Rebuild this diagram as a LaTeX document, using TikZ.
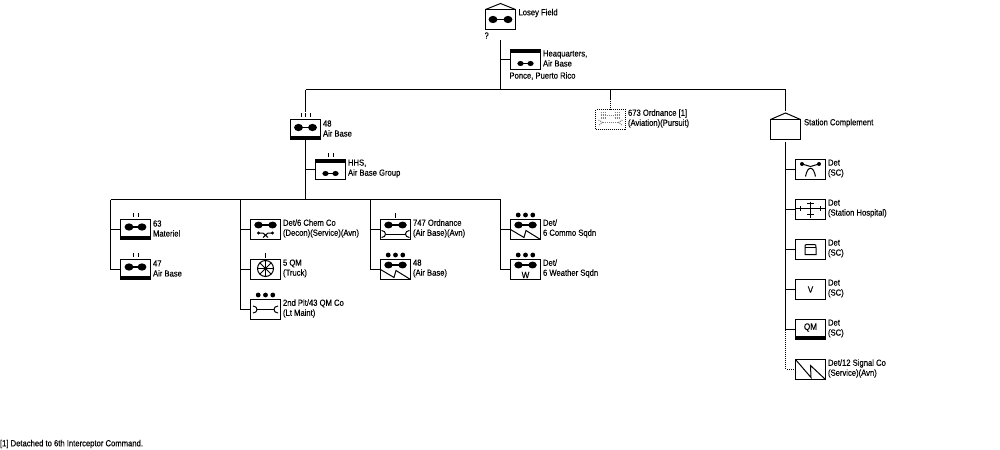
\documentclass[tikz,border=0pt]{standalone}
\usepackage{fontspec}
\setmainfont[FakeStretch=0.87,FakeBold=0.25]{Liberation Sans}
\tikzset{
  x=0.75pt,y=-0.75pt,
  every path/.style={line width=0.75pt},
  unitbox/.style={draw,fill=white,rectangle,minimum width=22.5pt,minimum height=15pt,inner sep=0pt,outer sep=0pt},
  dotbox/.style={unitbox,dash pattern=on 0.75pt off 0.75pt},
  lbl/.style={anchor=west,align=left,inner sep=0pt,outer sep=0pt,font=\fontsize{6.6}{7.5}\selectfont},
  link/.style={line width=0.75pt},
  dotlink/.style={line width=0.75pt,dash pattern=on 0.75pt off 0.75pt},
  glyph/.style={inner sep=0pt,outer sep=0pt,font=\fontsize{7}{9}\selectfont},
}
\newcommand\dumbb[3]{\fill (-#1,#2) ellipse [x radius=#3*1.12,y radius=#3*0.9]; \fill (#1,#2) ellipse [x radius=#3*1.12,y radius=#3*0.9]; \draw[line width=1pt] (-#1,#2) -- (#1,#2);}
\newcommand\barbottom{\fill (-15,6.5) rectangle (15,10.3);}
\newcommand\bartop{\fill (-15,-10.3) rectangle (15,-6.5);}
\newcommand\tickone{\draw (0,-16.5) -- (0,-12);}
\newcommand\ticktwo{\draw (-2.5,-16.5) -- (-2.5,-12.5) (2.5,-16.5) -- (2.5,-12.5);}
\newcommand\tickthree{\draw (-4.5,-16.5) -- (-4.5,-12.5) (0,-16.5) -- (0,-12.5) (4.5,-16.5) -- (4.5,-12.5);}
\newcommand\threedots{\fill (-7.3,-14.5) circle [radius=2.4] (0,-14.5) circle [radius=2.4] (7.3,-14.5) circle [radius=2.4];}
% wrench: #1 left end, #2 right end, #3 y, #4 jaw depth
\newcommand\wrench[4]{%
  \draw (#1+#4,#3) -- (#2-#4,#3);
  \draw (#1,#3-3.5) .. controls (#1+#4*1.33,#3-3.5) and (#1+#4*1.33,#3+3.5) .. (#1,#3+3.5);
  \draw (#2,#3-3.5) .. controls (#2-#4*1.33,#3-3.5) and (#2-#4*1.33,#3+3.5) .. (#2,#3+3.5);}
\newcommand\zigzag{\draw (-15,0) -- (-1.5,8) -- (0.5,1) -- (15,10);}
\newcommand\unitnode[6][unitbox]{%
  \node[#1] (#2) at (#3,#4) {};
  \begin{scope}[shift={(#3,#4)}] #6 \end{scope}
  \node[lbl] (#2-l) at (#3+17.5,#4-1) {#5};
}
\begin{document}
\begin{tikzpicture}
\useasboundingbox (0,0) rectangle (1000,450);
\fill[white] (0,0) rectangle (1000,450);

% junctions
\coordinate (tr0) at (500.5,40);
\coordinate (j0) at (500.5,89.5);
\coordinate (jl) at (305.5,89.5);
\coordinate (jm) at (610.5,89.5);
\coordinate (jmd) at (610.5,99);
\coordinate (jr) at (785.5,89.5);
\coordinate (jrt) at (785.5,111);
\coordinate (c0) at (305.5,199.5);
\coordinate (c1) at (110.5,199.5);
\coordinate (c2) at (240.5,199.5);
\coordinate (c3) at (370.5,199.5);
\coordinate (c4) at (500.5,199.5);
\coordinate (rb) at (785.5,141.5);
\coordinate (rc) at (785.5,369.5);

% top
\unitnode{lf}{500.5}{19.5}{}{\dumbb{7.5}{0}{4}}
\coordinate (lfr) at (500.5,3.5);
\draw (lf.north west) -- (lfr) -- (lf.north east);
\node[lbl] (lf-t) at (518.5,13) {Losey Field};
\node[lbl] (lf-q) at (484.5,35.5) {?};
\unitnode{hq}{525.5}{59.5}{Heaquarters,\\Air Base}{\bartop\dumbb{5}{4}{2.8}}
\node[lbl] (hq-p) at (509.5,76) {Ponce, Puerto Rico};

% Trunks
\draw[link] (tr0) -- (j0);
\draw[link] (hq.west) -- (hq.west -| tr0);
\draw[link] (jl) -- (jr);

% 48 group
\draw[link] (jl) -- (305.5,112);
\unitnode{ab}{305.5}{129.5}{48\\Air Base}{\barbottom\dumbb{7}{-2}{4}\tickthree}
\draw[link] (ab.south) -- (c0);
\unitnode{hhs}{330.5}{169.5}{HHS,\\Air Base Group}{\bartop\dumbb{5}{4}{2.8}\ticktwo}
\draw[link] (hhs.west) -- (hhs.west -| c0);
\draw[link] (c1) -- (c4);

% 673
\draw[link] (jm) -- (jmd);
\unitnode[dotbox]{ord}{610.5}{119.5}{673 Ordnance [1]\\(Aviation)(Pursuit)}{%
  \begin{scope}[gray,dash pattern=on 0.75pt off 0.75pt]
  \foreach \yy in {-7,-5.5,-4,-2.5,-1} {\draw (-10,\yy) -- (-4,\yy) (4,\yy) -- (10,\yy);}
  \draw (-4,-4) -- (4,-4);
  \draw (-8,3) -- (8,3);
  \draw (-12,0.5) -- (-8,3) -- (-12,6) (12,0.5) -- (8,3) -- (12,6);
  \end{scope}}
\draw[dotlink] (jmd) -- (ord.north);

% Station complement
\draw[link] (jr) -- (jrt);
\unitnode{sc}{785.5}{129.5}{}{}
\coordinate (scr) at (785.5,113);
\draw (sc.north west) -- (scr) -- (sc.north east);
\node[lbl] (sc-t) at (804,123) {Station Complement};
\draw[link] (rb) -- (785.5,329.5);
\draw[dotlink] (785.5,329.5) -- (rc);

\unitnode{d1}{810.5}{169.5}{Det\\(SC)}{%
  \fill (-8.5,-5.5) circle [radius=2] (8.5,-5.5) circle [radius=2];
  \draw (-8.5,-5.5) -- (0,-3) -- (8.5,-5.5);
  \draw (-5,7) .. controls (-3,-4) and (3,-4) .. (5,7);}
\unitnode{d2}{810.5}{209.5}{Det\\(Station Hospital)}{%
  \draw (-15,-1) -- (15,-1) (0,-8) -- (0,8.5);
  \draw (-10,-3.5) -- (-10,1.5) (10,-3.5) -- (10,1.5);
  \draw (-3.5,-6) -- (3.5,-6) (-3.5,4.5) -- (3.5,4.5);}
\unitnode{d3}{810.5}{249.5}{Det\\(SC)}{%
  \draw (-5.5,5) -- (-5.5,-2) .. controls (-5.5,-5) .. (-3,-5) -- (3,-5) .. controls (5.5,-5) .. (5.5,-2) -- (5.5,5) -- cycle;
  \draw (-5.5,-2) -- (5.5,-2);}
\unitnode{d4}{810.5}{289.5}{Det\\(SC)}{\node[glyph] (d4-g) at (0,0) {V};}
\unitnode{d5}{810.5}{329.5}{Det\\(SC)}{\barbottom\node[glyph] (d5-g) at (0,-2) {QM};}
\unitnode{d6}{810.5}{369.5}{Det/12 Signal Co\\(Service)(Avn)}{%
  \draw (-15,-10) -- (0.5,8) -- (0,-4) -- (15,10);}
\foreach \n in {d1,d2,d3,d4,d5} {\draw[link] (\n.west) -- (\n.west -| rc);}
\draw[dotlink] (d6.west) -- (rc);

% column 1
\unitnode{u63}{135.5}{229.5}{63\\Materiel}{\barbottom\dumbb{6.5}{-2.5}{4}\ticktwo}
\unitnode{u47}{135.5}{269.5}{47\\Air Base}{\barbottom\dumbb{6.5}{-2.5}{4}\ticktwo}
\draw[link] (c1) |- (u47.west);
\draw[link] (u63.west) -- (u63.west -| c1);

% column 2
\unitnode{chem}{265.5}{229.5}{Det/6 Chem Co\\(Decon)(Service)(Avn)}{%
  \dumbb{7}{-4.5}{3.8}
  \fill (-7,3.5) circle [radius=1.7] (7,3.5) circle [radius=1.7];
  \draw (-7,3.5) -- (-2.5,3.5) -- (2.5,8) (7,3.5) -- (2.5,3.5) -- (-2.5,8);}
\unitnode{qm5}{265.5}{269.5}{5 QM\\(Truck)}{%
  \tickone
  \draw (0,-1) circle [radius=8];
  \foreach \a in {0,45,...,315} {\draw (0,-1) -- +(\a:8);}
  \fill (0,-1) circle [radius=1.2];}
\unitnode{plt}{265.5}{309.5}{2nd Plt/43 QM Co\\(Lt Maint)}{\threedots\wrench{-12.5}{12.5}{0}{4}}
\draw[link] (c2) |- (plt.west);
\draw[link] (chem.west) -- (chem.west -| c2);
\draw[link] (qm5.west) -- (qm5.west -| c2);

% column 3
\unitnode{o747}{395.5}{229.5}{747 Ordnance\\(Air Base)(Avn)}{\tickone\dumbb{7}{-4.5}{3.8}\wrench{-14}{14}{4.5}{4}}
\unitnode{ab48}{395.5}{269.5}{48\\(Air Base)}{\threedots\dumbb{7}{-4.5}{3.8}\zigzag}
\draw[link] (c3) |- (ab48.west);
\draw[link] (o747.west) -- (o747.west -| c3);

% column 4
\unitnode{com}{525.5}{229.5}{Det/\\6 Commo Sqdn}{\threedots\dumbb{7}{-4.5}{3.8}\zigzag}
\unitnode{wx}{525.5}{269.5}{Det/\\6 Weather Sqdn}{\threedots\dumbb{7}{-4.5}{3.8}\node[glyph] (wx-g) at (0,5.5) {W};}
\draw[link] (c4) |- (wx.west);
\draw[link] (com.west) -- (com.west -| c4);

\node[lbl] (fn) at (0,444) {[1] Detached to 6th Interceptor Command.};
\end{tikzpicture}
\end{document}
